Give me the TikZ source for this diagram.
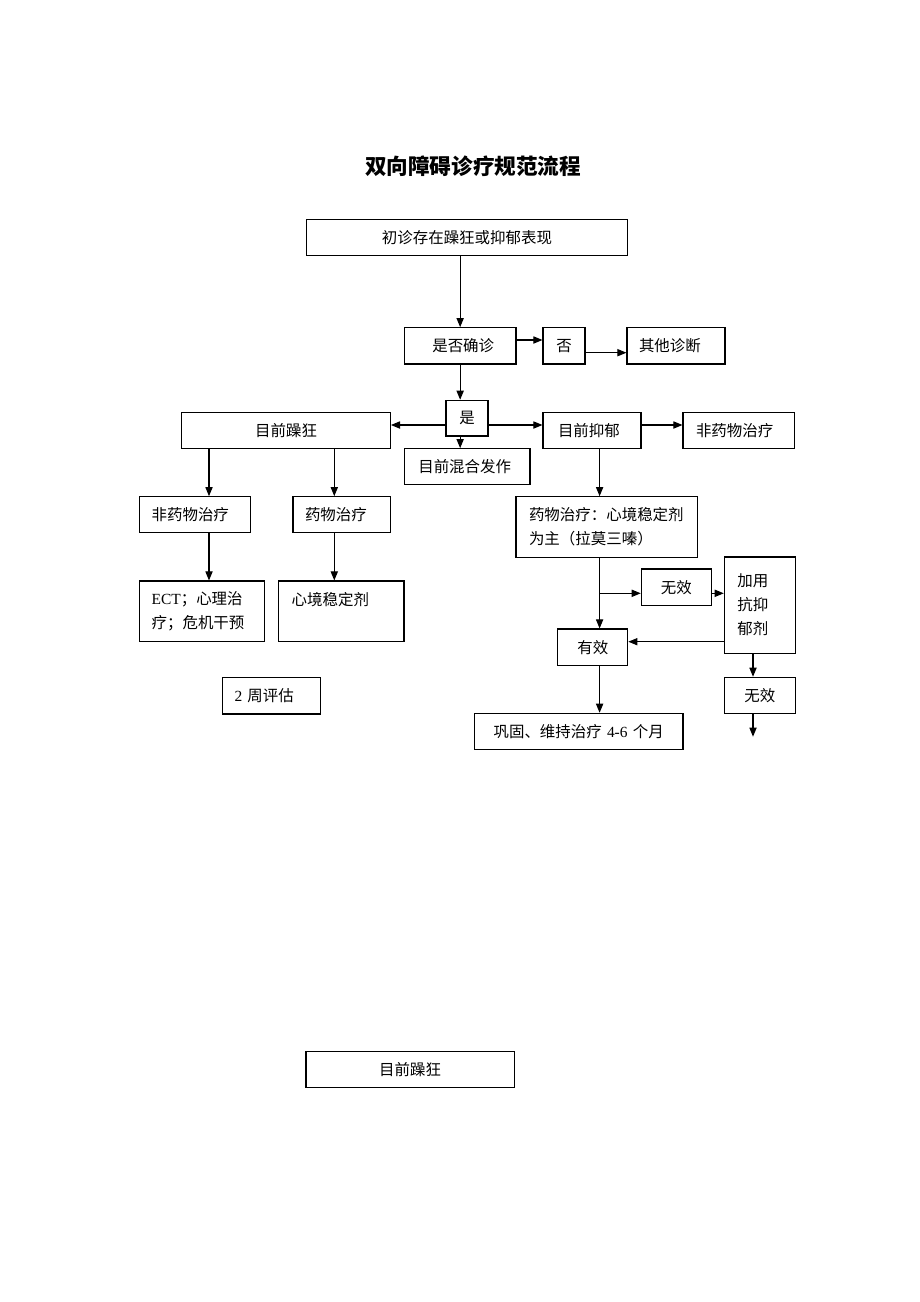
\documentclass[tikz,border=0pt]{standalone}
\usepackage{fontspec}
\setmainfont{Liberation Serif}
\newfontfamily\cjk{Noto Sans CJK SC}
\usetikzlibrary{arrows.meta}
\newcommand\latn[1]{{\rmfamily #1}}
\newcommand\mybox[8][left]{%
  \pgfmathsetmacro\myBW{(#4-#3)*0.75}%
  \pgfmathsetmacro\myBH{(#6-#5)*0.75}%
  \pgfmathsetmacro\myBP{#7*0.75}%
  \pgfmathsetmacro\myTW{\myBW-2*\myBP}%
  \node[box, align=#1, minimum width=\myBW pt, minimum height=\myBH pt,
        inner xsep=\myBP pt, text width=\myTW pt] (#2) at ({(#3+#4)/2},{(#5+#6)/2}) {#8};}
\begin{document}
\begin{tikzpicture}[x=0.75pt,y=-0.75pt,
  box/.style={draw, line width=0.8pt, font=\cjk\fontsize{11.6}{18}\selectfont, inner ysep=0pt},
  arr/.style={-{Triangle[length=6.8pt,width=5.4pt]}, line width=0.8pt}]
\fill[white] (0,0) rectangle (920,1302);
\useasboundingbox (0,0) rectangle (920,1302);

\node[font=\cjk\bfseries\fontsize{16.2}{20}\selectfont] (title) at (473,166) {双向障碍诊疗规范流程};

\mybox[center]{top}{306.5}{627.4}{219.3}{255.7}{10}{初诊存在躁狂或抑郁表现}
\mybox{qz}{404.3}{516}{327.7}{364}{28}{是否确诊}
\mybox[center]{fou}{543}{585}{327.7}{364}{4}{否}
\mybox{qt}{627}{725}{327.7}{364}{12}{其他诊断}
\mybox[center]{shi}{446}{488}{400.3}{436}{4}{是}
\mybox[center]{mz}{181.7}{390.4}{412.3}{448.7}{10}{目前躁狂}
\mybox{yy}{543}{641}{412.3}{448.7}{15}{目前抑郁}
\mybox{fy2}{683}{794.3}{412.3}{448.7}{13}{非药物治疗}
\mybox{hh}{404.3}{530}{448.7}{484.3}{14}{目前混合发作}
\mybox{fy1}{139.6}{250.9}{496.7}{532.7}{12}{非药物治疗}
\mybox{yw}{293}{390.4}{496.7}{532.7}{12}{药物治疗}
\mybox{ywz}{516}{697.4}{496.7}{557.3}{13}{药物治疗：心境稳定剂\\为主（拉莫三嗪）}
\mybox{ect}{139.6}{264.3}{581}{641.3}{12}{\latn{ECT}；心理治\\疗；危机干预}
\mybox{xj}{278.7}{404}{581}{641.3}{13}{心境稳定剂\\\mbox{}}
\mybox{pg}{222.6}{320.4}{677.3}{714}{12}{\latn{2} 周评估}
\mybox[center]{wx1}{641.3}{711.3}{569}{605.3}{4}{无效}
\mybox{jy}{724.3}{795.2}{557}{653.3}{13}{加用\\抗抑\\郁剂}
\mybox[center]{yx}{557.8}{627.8}{629}{665.3}{4}{有效}
\mybox[center]{gg}{474.3}{683}{713.3}{749.3}{8}{巩固、维持治疗 \latn{4-6} 个月}
\mybox[center]{wx2}{724.3}{795.2}{677.3}{713.3}{4}{无效}
\mybox[center]{mz2}{306}{514.3}{1051.7}{1087.7}{10}{目前躁狂}

\draw[arr] (top.south -| qz.north) -- (qz.north);
\draw[arr] (qz.east |- 0,340) -- (fou.west |- 0,340);
\draw[arr] (fou.east |- 0,352.7) -- (qt.west |- 0,352.7);
\draw[arr] (qz.south) -- (qz.south |- shi.north);
\draw[arr] (shi.west |- 0,425) -- (mz.east |- 0,425);
\draw[arr] (shi.east |- 0,425) -- (yy.west |- 0,425);
\draw[arr] (yy.east |- 0,425) -- (fy2.west |- 0,425);
\draw[arr] (shi.south -| qz.south) -- (hh.north -| qz.south);
\draw[arr] (mz.south -| 209,0) -- (fy1.north -| 209,0);
\draw[arr] (mz.south -| 334.3,0) -- (yw.north -| 334.3,0);
\draw[arr] (yy.south -| 599.6,0) -- (ywz.north -| 599.6,0);
\draw[arr] (fy1.south -| 209,0) -- (ect.north -| 209,0);
\draw[arr] (yw.south -| 334.3,0) -- (xj.north -| 334.3,0);
\coordinate (br) at (599.6,593.3);
\draw[arr] (ywz.south -| br) -- (yx.north -| br);
\draw[arr] (br) -- (wx1.west |- br);
\draw[arr] (wx1.east |- br) -- (jy.west |- br);
\draw[arr] (jy.west |- 0,641.7) -- (yx.east |- 0,641.7);
\draw[arr] (jy.south -| 753,0) -- (wx2.north -| 753,0);
\draw[arr] (yx.south -| br) -- (gg.north -| br);
\coordinate (endp) at (753,736.7);
\draw[arr] (wx2.south -| endp) -- (endp);
\end{tikzpicture}
\end{document}
